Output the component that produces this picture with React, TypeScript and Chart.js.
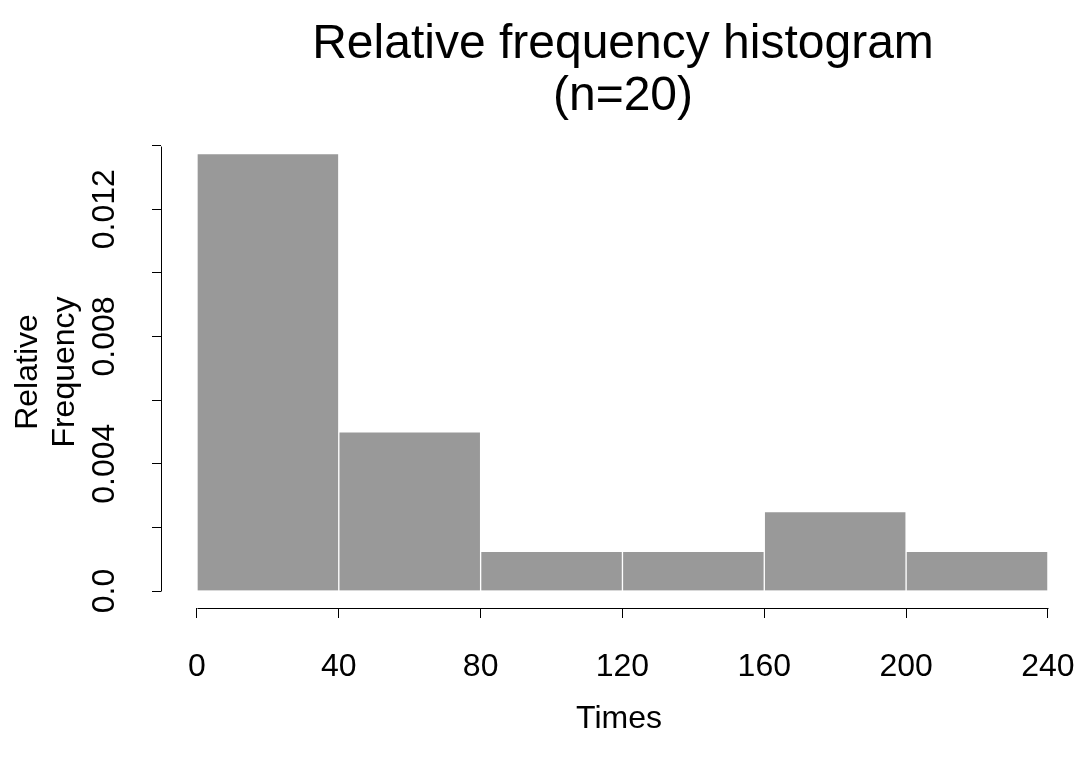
import React, { useEffect, useRef } from 'react';
import { Chart, registerables } from 'chart.js';

Chart.register(...registerables);

// ---- data ----
const BIN_EDGES = [0, 40, 80, 120, 160, 200, 240];
const REL_FREQ = [0.01375, 0.005, 0.00125, 0.00125, 0.0025, 0.00125];
const X_TICKS = [0, 40, 80, 120, 160, 200, 240];
const Y_TICKS = [0, 0.002, 0.004, 0.006, 0.008, 0.01, 0.012, 0.014];
const Y_TICK_LABELS = ['0.0', '', '0.004', '', '0.008', '', '0.012', ''];
const TITLE_LINES = ['Relative frequency histogram', '(n=20)'];
const X_TITLE = 'Times';
const Y_TITLE = ['Relative', 'Frequency'];

const FONT = '"Liberation Sans", Arial, Helvetica, sans-serif';

const rAxesPlugin = {
  id: 'rAxes',
  afterDraw(chart: any) {
    const ctx = chart.ctx;
    const xs = chart.scales.x;
    const ys = chart.scales.y;
    const area = chart.chartArea;
    ctx.save();
    ctx.strokeStyle = '#000000';
    ctx.lineWidth = 1;
    ctx.beginPath();
    // y axis line (from first to last tick)
    const yx = Math.round(area.left) + 0.5;
    ctx.moveTo(yx, Math.round(ys.getPixelForValue(Y_TICKS[0])) + 0.5);
    ctx.lineTo(yx, Math.round(ys.getPixelForValue(Y_TICKS[Y_TICKS.length - 1])) + 0.5);
    // x axis line (from first to last tick)
    const xy = Math.round(area.bottom) + 0.5;
    ctx.moveTo(Math.round(xs.getPixelForValue(X_TICKS[0])) + 0.5, xy);
    ctx.lineTo(Math.round(xs.getPixelForValue(X_TICKS[X_TICKS.length - 1])) + 0.5, xy);
    ctx.stroke();

    // main title (centered over the plot region, like R)
    ctx.fillStyle = '#000000';
    ctx.font = `48px ${FONT}`;
    ctx.textAlign = 'center';
    ctx.textBaseline = 'alphabetic';
    const cx = 623;
    ctx.fillText(TITLE_LINES[0], cx, 58);
    ctx.fillText(TITLE_LINES[1], cx, 110);
    ctx.restore();
  },
};

export default function App() {
  const canvasRef = useRef<HTMLCanvasElement | null>(null);

  useEffect(() => {
    if (!canvasRef.current) return;
    const mids = REL_FREQ.map((_, i) => (BIN_EDGES[i] + BIN_EDGES[i + 1]) / 2);
    const chart = new Chart(canvasRef.current, {
      type: 'bar',
      data: {
        datasets: [
          {
            data: REL_FREQ.map((v, i) => ({ x: mids[i], y: v })),
            backgroundColor: '#999999',
            borderColor: '#ffffff',
            borderWidth: 1,
            barPercentage: 1,
            categoryPercentage: 1,
          },
        ],
      },
      options: {
        animation: false,
        responsive: false,
        maintainAspectRatio: false,
        layout: { padding: { top: 136, left: 0, right: 0, bottom: 0 } },
        plugins: {
          legend: { display: false },
          title: { display: false },
          tooltip: { enabled: false },
        },
        scales: {
          x: {
            type: 'linear',
            position: 'bottom',
            min: -10.15,
            max: 248.2,
            offset: false,
            afterBuildTicks: (scale: any) => {
              scale.ticks = X_TICKS.map((v) => ({ value: v }));
            },
            afterFit: (scale: any) => {
              scale.height = 150;
              scale.paddingLeft = 0;
              scale.paddingRight = 0;
            },
            grid: {
              display: true,
              offset: false,
              drawOnChartArea: false,
              drawTicks: true,
              tickLength: 10,
              color: '#000000',
              lineWidth: 1,
            },
            border: { display: false },
            ticks: {
              autoSkip: false,
              maxRotation: 0,
              minRotation: 0,
              padding: 30,
              color: '#000000',
              font: { family: FONT, size: 32, lineHeight: 1.2 },
              callback: (v: any) => String(v),
            },
            title: {
              display: true,
              text: X_TITLE,
              color: '#000000',
              font: { family: FONT, size: 32, lineHeight: 1.2 },
              padding: { top: 0, bottom: 20 },
            },
          },
          y: {
            type: 'linear',
            position: 'left',
            min: -0.000534,
            max: 0.0143,
            afterBuildTicks: (scale: any) => {
              scale.ticks = Y_TICKS.map((v) => ({ value: v }));
            },
            afterFit: (scale: any) => {
              scale.width = 161;
              scale.paddingTop = 0;
              scale.paddingBottom = 0;
            },
            grid: {
              display: true,
              drawOnChartArea: false,
              drawTicks: true,
              tickLength: 9,
              color: '#000000',
              lineWidth: 1,
            },
            border: { display: false },
            ticks: {
              autoSkip: false,
              minRotation: 90,
              maxRotation: 90,
              crossAlign: 'center',
              padding: 7,
              color: '#000000',
              font: { family: FONT, size: 32, lineHeight: 1.2 },
              callback: (_v: any, i: number) => Y_TICK_LABELS[i],
            },
            title: {
              display: true,
              text: Y_TITLE,
              color: '#000000',
              font: { family: FONT, size: 32, lineHeight: 1.18 },
              padding: { top: 9, bottom: 0 },
            },
          },
        },
      },
      plugins: [rAxesPlugin],
    } as any);
    return () => chart.destroy();
  }, []);

  return (
    <div style={{ position: 'absolute', left: 0, top: 0, width: 1077, height: 758, background: '#ffffff' }}>
      <canvas ref={canvasRef} width={1077} height={758} style={{ display: 'block' }} />
    </div>
  );
}
